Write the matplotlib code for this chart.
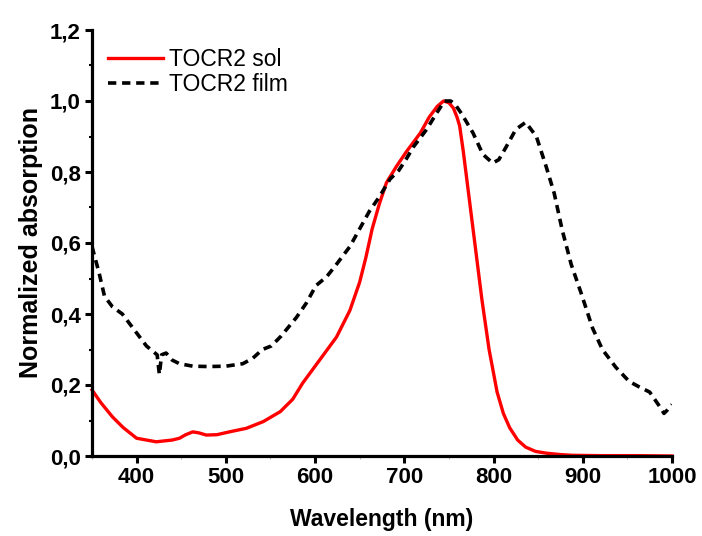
import matplotlib
matplotlib.use("Agg")
import matplotlib.pyplot as plt
from matplotlib.ticker import MultipleLocator, FuncFormatter

plt.rcParams['font.family'] = ['Liberation Sans', 'DejaVu Sans']

# ---- data ----
wl_sol = [350, 360, 373, 385, 400, 422, 440, 448, 455, 463, 470, 478, 490, 504,
          523, 542, 561, 575, 586, 605, 624, 639, 650, 657, 664, 672, 680, 691,
          702, 718, 728, 737, 744, 750, 755, 759, 762, 766, 773, 780, 787, 795,
          804, 811, 818, 827, 836, 847, 859, 875, 888, 920, 960, 1000]
abs_sol = [0.186, 0.15, 0.11, 0.08, 0.05, 0.04, 0.045, 0.05, 0.06, 0.068, 0.065,
           0.059, 0.06, 0.068, 0.078, 0.097, 0.125, 0.16, 0.205, 0.27, 0.335,
           0.41, 0.49, 0.56, 0.64, 0.71, 0.77, 0.815, 0.856, 0.91, 0.955, 0.985,
           1.0, 0.995, 0.98, 0.955, 0.93, 0.86, 0.72, 0.58, 0.44, 0.30, 0.18,
           0.12, 0.08, 0.045, 0.025, 0.013, 0.008, 0.004, 0.002, 0.001, 0.001, 0.0]

wl_film = [350, 358, 364, 373, 384, 396, 411, 423, 425.5, 428, 433, 440, 448,
           463, 480, 500, 519, 530, 541, 551, 562, 579, 590, 601, 613, 624, 639,
           650, 661, 672, 684, 694, 703, 710, 725, 736, 745, 752, 757, 764, 777,
           788, 799, 806, 814, 825, 836, 848, 859, 868, 877, 887, 898, 911, 922,
           937, 952, 963, 975, 986, 991, 995, 1000]
abs_film = [0.59, 0.515, 0.45, 0.42, 0.40, 0.36, 0.31, 0.285, 0.23, 0.285, 0.29,
            0.27, 0.26, 0.253, 0.252, 0.253, 0.26, 0.275, 0.30, 0.31, 0.338,
            0.39, 0.43, 0.48, 0.505, 0.54, 0.59, 0.64, 0.69, 0.73, 0.78, 0.805,
            0.84, 0.87, 0.92, 0.965, 1.0, 1.0, 0.99, 0.965, 0.91, 0.85, 0.825,
            0.835, 0.87, 0.92, 0.94, 0.90, 0.815, 0.74, 0.636, 0.54, 0.46, 0.36,
            0.30, 0.25, 0.21, 0.195, 0.18, 0.14, 0.12, 0.13, 0.145]

labels = ["TOCR2 sol", "TOCR2 film"]
x_ticks = [400, 500, 600, 700, 800, 900, 1000]
y_ticks = [0.0, 0.2, 0.4, 0.6, 0.8, 1.0, 1.2]

fig = plt.figure(figsize=(7.02, 5.36), dpi=100)
ax = fig.add_axes([92/702, 1-456/536, 580/702, 426/536])

ax.plot(wl_sol, abs_sol, color='#ff0000', lw=2.4, label=labels[0],
        solid_joinstyle='round', clip_on=False)
ax.plot(wl_film, abs_film, color='black', lw=2.6, linestyle=(0, (2.3, 1.6)),
        label=labels[1], dash_capstyle='butt')

ax.set_xlim(350, 1000)
ax.set_ylim(0, 1.2)
ax.set_xticks(x_ticks)
ax.set_yticks(y_ticks)
ax.xaxis.set_minor_locator(MultipleLocator(50))
ax.yaxis.set_minor_locator(MultipleLocator(0.1))
ax.yaxis.set_major_formatter(FuncFormatter(lambda v, p: f"{v:.1f}".replace('.', ',')))

for s in ['top', 'right']:
    ax.spines[s].set_visible(False)
for s in ['left', 'bottom']:
    ax.spines[s].set_linewidth(2.3)

ax.tick_params(axis='both', which='major', direction='out', length=5, width=2.2,
               pad=3, labelsize=16)
ax.tick_params(axis='y', which='minor', direction='out', length=2.5, width=1.5)
ax.tick_params(axis='x', which='minor', direction='out', length=2, width=0.8,
               color='#bbbbbb')
for t in ax.get_xticklabels() + ax.get_yticklabels():
    t.set_fontweight('bold')

ax.set_xlabel("Wavelength (nm)", fontsize=16.5, fontweight='bold', labelpad=14)
ax.set_ylabel("Normalized absorption", fontsize=18, fontweight='bold', labelpad=5)

leg = ax.legend(loc='upper left', bbox_to_anchor=(0.027, 0.958), frameon=False,
                fontsize=16.5, handlelength=2.4, handletextpad=0.28,
                borderpad=0, borderaxespad=0, labelspacing=0.1)

fig.savefig("out.png", dpi=100)
